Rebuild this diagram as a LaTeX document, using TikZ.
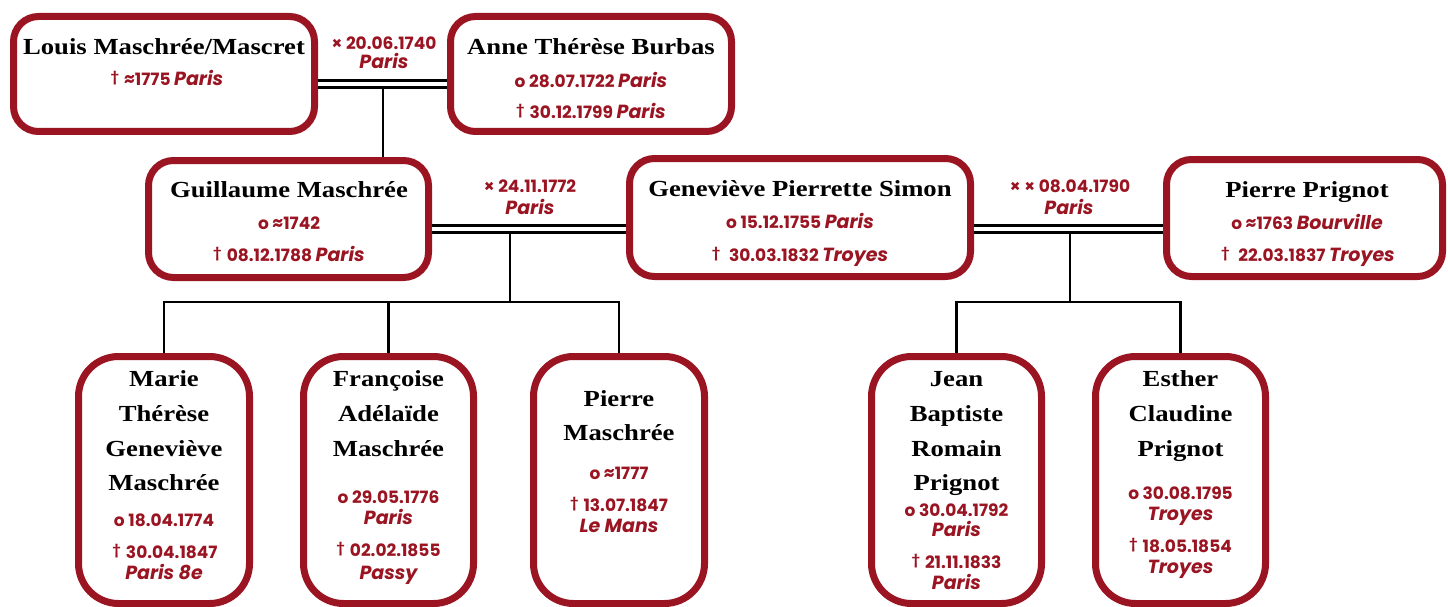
\documentclass[tikz,border=0pt]{standalone}
\usepackage{fontspec}
\newfontfamily\nmf{Liberation Serif}[FakeStretch=1.16]
\newfontfamily\dtf{Poppins}
\definecolor{dred}{HTML}{9A1422}
\newcommand\dg{\raisebox{4pt}{\fontsize{13}{13}\selectfont †}\hspace{5pt}}
\newcommand\pl[1]{{\itshape\fontsize{19}{20}\selectfont #1}}
\tikzset{
  pbox/.style={draw=dred, line width=7pt, rounded corners=25pt, fill=white, inner sep=0pt},
  cbox/.style={pbox, rounded corners=40pt, minimum height=247pt, minimum width=170pt},
  nm/.style={font=\nmf\bfseries\fontsize{23}{26}\selectfont, text height=15.2pt, text depth=0pt, inner sep=0pt},
  dt/.style={font=\dtf\bfseries\fontsize{17}{19}\selectfont, text=dred, text height=11.9pt, text depth=0pt, inner sep=0pt},
  link/.style={line width=2.7pt, black},
  marr/.style={line width=2.7pt, black, double=white, double distance=4pt}
}
\begin{document}
\begin{tikzpicture}[x=1pt,y=-1pt]
\useasboundingbox (0,0) rectangle (1448,607);
% boxes
\node[pbox, minimum width=301pt, minimum height=115pt] (louis) at (164,74) {};
\node[pbox, minimum width=281pt, minimum height=115pt] (anne) at (591,74) {};
\node[pbox, minimum width=280pt, minimum height=117pt] (guil) at (288.5,219) {};
\node[pbox, minimum width=341pt, minimum height=118pt] (gen) at (800,217.5) {};
\node[pbox, minimum width=276pt, minimum height=117pt] (pp) at (1304.5,218) {};
\node[cbox, minimum width=171pt] (c1) at (164,480) {};
\node[cbox] (c2) at (388.5,480) {};
\node[cbox, minimum width=171pt] (c3) at (619,480) {};
\node[cbox] (c4) at (956.5,480) {};
\node[cbox] (c5) at (1180.5,480) {};
% junctions
\coordinate (j1) at (383,84);
\coordinate (j2) at (510,229);
\coordinate (j3) at (1070,229);
\coordinate (b1) at (510,302);
\coordinate (b2) at (1070,302);
% connectors
\draw[link] (j1) -- (guil.north -| j1);
\draw[marr] (louis.east |- j1) -- (anne.west |- j1);
\draw[link] (j2) -- (b1);
\draw[marr] (guil.east |- j2) -- (gen.west |- j2);
\draw[link] (c1.north) -- (c1.north |- b1) -- (c3.north |- b1) -- (c3.north);
\draw[link] (c2.north) -- (c2.north |- b1);
\draw[link] (j3) -- (b2);
\draw[marr] (gen.east |- j3) -- (pp.west |- j3);
\draw[link] (c4.north) -- (c4.north |- b2) -- (c5.north |- b2) -- (c5.north);
% marriage labels
\node[dt] (m1a) at (384,44) {× 20.06.1740};
\node[dt] (m1b) at (384,63) {\pl{Paris}};
\node[dt] (m2a) at (530,187) {× 24.11.1772};
\node[dt] (m2b) at (530,209) {\pl{Paris}};
\node[dt] (m3a) at (1070,187) {× × 08.04.1790};
\node[dt] (m3b) at (1069,209) {\pl{Paris}};
% Louis
\node[nm] (t1) at (164,47) {Louis Maschrée/Mascret};
\node[dt] (t2) at (167,80) {\dg ≈1775 \pl{Paris}};
% Anne
\node[nm] (t3) at (591,47) {Anne Thérèse Burbas};
\node[dt] (t4) at (591,82) {o 28.07.1722 \pl{Paris}};
\node[dt] (t5) at (591,113) {\dg 30.12.1799 \pl{Paris}};
% Guillaume
\node[nm] (t6) at (289,190) {Guillaume Maschrée};
\node[dt] (t7) at (289,224) {o ≈1742};
\node[dt] (t8) at (289,256) {\dg 08.12.1788 \pl{Paris}};
% Genevieve
\node[nm] (t9) at (800,189) {Geneviève Pierrette Simon};
\node[dt] (t10) at (800,223) {o 15.12.1755 \pl{Paris}};
\node[dt] (t11) at (800,256) {\dg\ 30.03.1832 \pl{Troyes}};
% Pierre Prignot
\node[nm] (t12) at (1307,190) {Pierre Prignot};
\node[dt] (t13) at (1307,224) {o ≈1763 \pl{Bourville}};
\node[dt] (t14) at (1308,256) {\dg\ 22.03.1837 \pl{Troyes}};
% Marie
\node[nm] (a1) at (164,379) {Marie};
\node[nm] (a2) at (164,414) {Thérèse};
\node[nm] (a3) at (164,449) {Geneviève};
\node[nm] (a4) at (164,483) {Maschrée};
\node[dt] (a5) at (164,521) {o 18.04.1774};
\node[dt] (a6) at (165,553) {\dg 30.04.1847};
\node[dt] (a7) at (164,574) {\pl{Paris 8e}};
% Francoise
\node[nm] (f1) at (388.5,379) {Françoise};
\node[nm] (f2) at (388.5,414) {Adélaïde};
\node[nm] (f3) at (388.5,449) {Maschrée};
\node[dt] (f4) at (388.5,498) {o 29.05.1776};
\node[dt] (f5) at (388.5,519) {\pl{Paris}};
\node[dt] (f6) at (388.5,551) {\dg 02.02.1855};
\node[dt] (f7) at (388.5,574) {\pl{Passy}};
% Pierre M
\node[nm] (p1) at (619,399) {Pierre};
\node[nm] (p2) at (619,433) {Maschrée};
\node[dt] (p3) at (619,474) {o ≈1777};
\node[dt] (p4) at (619,506) {\dg 13.07.1847};
\node[dt] (p5) at (619,527) {\pl{Le Mans}};
% Jean
\node[nm] (e1) at (956.5,379) {Jean};
\node[nm] (e2) at (956.5,414) {Baptiste};
\node[nm] (e3) at (956.5,449) {Romain};
\node[nm] (e4) at (956.5,483) {Prignot};
\node[dt] (e5) at (956.5,511) {o 30.04.1792};
\node[dt] (e6) at (956.5,531) {\pl{Paris}};
\node[dt] (e7) at (956.5,563) {\dg 21.11.1833};
\node[dt] (e8) at (956.5,584) {\pl{Paris}};
% Esther
\node[nm] (s1) at (1180.5,379) {Esther};
\node[nm] (s2) at (1180.5,414) {Claudine};
\node[nm] (s3) at (1180.5,449) {Prignot};
\node[dt] (s4) at (1180.5,494) {o 30.08.1795};
\node[dt] (s5) at (1180.5,515) {\pl{Troyes}};
\node[dt] (s6) at (1180.5,547) {\dg 18.05.1854};
\node[dt] (s7) at (1180.5,568) {\pl{Troyes}};
\end{tikzpicture}
\end{document}
